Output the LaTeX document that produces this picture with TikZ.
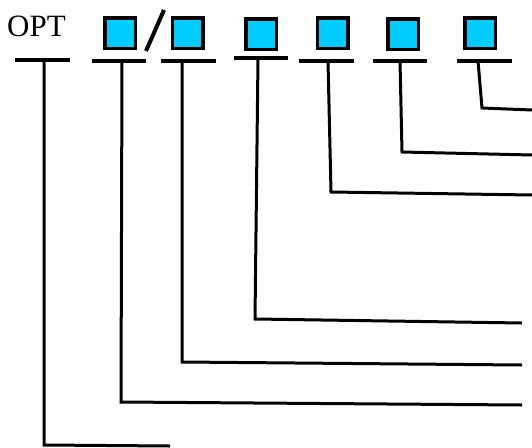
\documentclass[tikz,border=0pt]{standalone}
\usepackage{fontspec}
\setmainfont{Liberation Serif}
\definecolor{boxcyan}{RGB}{0,204,255}
\tikzset{
  sqbox/.style={draw=black, line width=3.5pt, fill=boxcyan, minimum size=30.5pt, inner sep=0pt},
  barline/.style={line width=4pt},
  conn/.style={line width=3pt, line join=miter},
}
\begin{document}
\begin{tikzpicture}[x=1pt,y=-1pt]
\useasboundingbox (0,0) rectangle (532,447);
% label
\node[anchor=base west, inner sep=0pt, font=\fontsize{31}{31}\selectfont] (opt) at (7,36) {OPT};
% boxes
\node[sqbox] (s1) at (120,33) {};
\node[sqbox] (s2) at (187.5,33) {};
\node[sqbox] (s3) at (261,34) {};
\node[sqbox] (s4) at (332.5,33) {};
\node[sqbox] (s5) at (403,34) {};
\node[sqbox] (s6) at (480,33) {};
% slash
\coordinate (sl1) at (146,51);
\coordinate (sl2) at (164,10);
\draw[barline] (sl1) -- (sl2);
% bars
\coordinate (b0l) at (15,60);  \coordinate (b0r) at (70,60);
\coordinate (b1l) at (92,61);  \coordinate (b1r) at (146,61);
\coordinate (b2l) at (161,61); \coordinate (b2r) at (216,61);
\coordinate (b3l) at (234,58); \coordinate (b3r) at (288,58);
\coordinate (b4l) at (299,61); \coordinate (b4r) at (354,61);
\coordinate (b5l) at (373,61); \coordinate (b5r) at (427,61);
\coordinate (b6l) at (457,61); \coordinate (b6r) at (512,61);
\foreach \i in {0,...,6} \draw[barline] (b\i l) -- (b\i r);
% connector points
\coordinate (t0) at (44,60);   \coordinate (k0) at (44,445);   \coordinate (e0) at (170,446);
\coordinate (t1) at (122,61);  \coordinate (k1) at (121,402);  \coordinate (e1) at (522,405);
\coordinate (t2) at (182,61);  \coordinate (k2) at (182,362);  \coordinate (e2) at (522,365);
\coordinate (t3) at (258,58);  \coordinate (k3) at (255,319);  \coordinate (e3) at (522,323);
\coordinate (t4) at (328,61);  \coordinate (k4) at (331,192);  \coordinate (e4) at (532,195);
\coordinate (t5) at (400,61);  \coordinate (k5) at (402,152);  \coordinate (e5) at (532,155);
\coordinate (t6) at (478,61);  \coordinate (k6) at (482,108);  \coordinate (e6) at (532,110);
\foreach \i in {0,...,6} \draw[conn] (t\i) -- (k\i) -- (e\i);
\end{tikzpicture}
\end{document}
